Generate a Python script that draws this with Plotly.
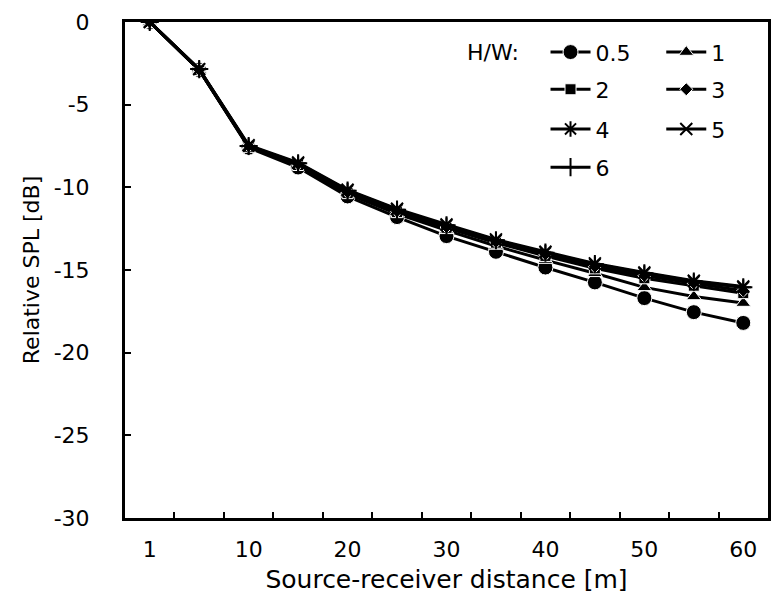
import plotly.graph_objects as go

distances = ["1", "5", "10", "15", "20", "25", "30", "35", "40", "45", "50", "55", "60"]
x_tick_text = ["1", "", "10", "", "20", "", "30", "", "40", "", "50", "", "60"]
y_tick_vals = [0, -5, -10, -15, -20, -25, -30]
y_tick_text = ["0", "-5", "-10", "-15", "-20", "-25", "-30"]

series_names = ["0.5", "1", "2", "3", "4", "5", "6"]
hw_05 = [0, -2.9, -7.6, -8.8, -10.55, -11.8, -12.95, -13.9, -14.85, -15.75, -16.7, -17.55, -18.2]
hw_1 = [0, -2.9, -7.55, -8.7, -10.4, -11.6, -12.6, -13.55, -14.4, -15.2, -16.05, -16.6, -17.0]
hw_2 = [0, -2.9, -7.55, -8.65, -10.35, -11.5, -12.45, -13.35, -14.15, -14.9, -15.5, -15.95, -16.4]
hw_3 = [0, -2.9, -7.5, -8.6, -10.3, -11.45, -12.4, -13.3, -14.05, -14.8, -15.35, -15.8, -16.25]
hw_4 = [0, -2.85, -7.5, -8.55, -10.2, -11.35, -12.3, -13.2, -13.95, -14.65, -15.2, -15.7, -16.05]
hw_5 = [0, -2.85, -7.45, -8.5, -10.15, -11.3, -12.25, -13.15, -13.9, -14.6, -15.15, -15.65, -16.0]
hw_6 = [0, -2.85, -7.5, -8.55, -10.2, -11.35, -12.3, -13.2, -13.95, -14.65, -15.2, -15.7, -16.05]
all_series = [hw_05, hw_1, hw_2, hw_3, hw_4, hw_5, hw_6]

FONT = "DejaVu Sans"

# style per series: (symbol, size, outline colour, outline width)
styles = [
    ("circle", 15, "white", 1),
    ("triangle-up", 13, "white", 1),
    ("square", 11, "white", 1),
    ("diamond", 10, "white", 1),
    ("asterisk-open", 13, "black", 2),
    ("x-thin-open", 12, "black", 2),
    ("cross-thin-open", 13, "black", 2),
]
# legend placement (paper coords): column 1 / column 2
legend_pos = [
    (0.654, 0.939), (0.834, 0.939),
    (0.654, 0.864), (0.834, 0.864),
    (0.654, 0.784), (0.834, 0.784),
    (0.654, 0.707),
]

fig = go.Figure()
for i, (name, vals) in enumerate(zip(series_names, all_series)):
    sym, size, lc, lw = styles[i]
    lg = "legend" if i == 0 else f"legend{i+1}"
    fig.add_trace(go.Scatter(
        x=distances, y=vals, name=name, mode="lines+markers",
        line=dict(color="black", width=3),
        marker=dict(symbol=sym, size=size, color="black", line=dict(color=lc, width=lw)),
        legend=lg,
    ))

layout_legends = {}
for i in range(7):
    key = "legend" if i == 0 else f"legend{i+1}"
    lx, ly = legend_pos[i]
    layout_legends[key] = dict(
        x=lx, y=ly, xanchor="left", yanchor="middle",
        font=dict(family=FONT, size=22, color="black"),
        bgcolor="rgba(0,0,0,0)", borderwidth=0,
        itemwidth=40,
    )

fig.update_layout(
    width=774, height=609,
    margin=dict(l=125, r=3, t=22, b=91),
    paper_bgcolor="white", plot_bgcolor="white",
    font=dict(family=FONT, size=22, color="black"),
    showlegend=True,
    annotations=[dict(text="H/W:", xref="paper", yref="paper", x=0.528, y=0.939,
                      xanchor="left", yanchor="middle", showarrow=False,
                      font=dict(family=FONT, size=22, color="black"))],
    **layout_legends,
)

fig.update_xaxes(
    type="category", categoryorder="array", categoryarray=distances,
    range=[-0.5, 12.5],
    tickmode="array", tickvals=distances, ticktext=x_tick_text,
    tickson="boundaries", ticks="inside", ticklen=6, tickwidth=2, tickcolor="black",
    showline=True, linecolor="black", linewidth=3, mirror=True,
    showgrid=False, zeroline=False,
    ticklabelstandoff=10,
    title=dict(text="Source-receiver distance [m]", standoff=10,
               font=dict(family=FONT, size=25)),
    tickfont=dict(family=FONT, size=22),
)
fig.update_yaxes(
    range=[-30, 0], tickmode="array", tickvals=y_tick_vals, ticktext=y_tick_text,
    ticks="inside", ticklen=6, tickwidth=2, tickcolor="black",
    showline=True, linecolor="black", linewidth=3, mirror=True,
    showgrid=False, zeroline=False,
    ticklabelstandoff=28,
    title=dict(text="Relative SPL [dB]", standoff=8,
               font=dict(family=FONT, size=22)),
    tickfont=dict(family=FONT, size=22),
)

fig.write_html("out.html")
